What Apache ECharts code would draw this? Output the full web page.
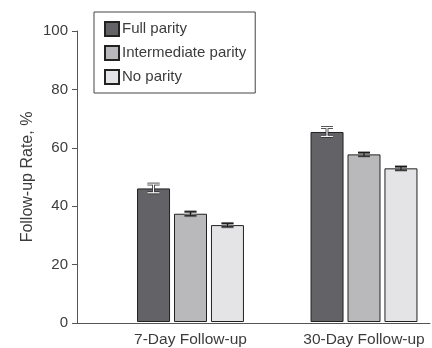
<!DOCTYPE html>
<html><head><meta charset="utf-8">
<script src="https://cdn.jsdelivr.net/npm/echarts@6/dist/echarts.min.js"></script>
<style>html,body{margin:0;padding:0;background:#fff}#c{width:432px;height:348px}</style>
</head><body><div id="c"></div>
<script>
var categories = ['7-Day Follow-up', '30-Day Follow-up'];
var seriesNames = ['Full parity', 'Intermediate parity', 'No parity'];
var fullParity = [45.9, 65.3];
var intermediateParity = [37.2, 57.6];
var noParity = [33.3, 52.8];
var fullErr = [1.5, 1.5];
var intermediateErr = [0.7, 0.6];
var noErr = [0.6, 0.6];
var yTicks = [0, 20, 40, 60, 80, 100];

var colors = ['#636367', '#b9b9bb', '#e4e4e6'];
var values = [fullParity, intermediateParity, noParity];
var errs = [fullErr, intermediateErr, noErr];
var offsets = [-37, 0, 37];
var font = 'Liberation Sans, Arial, sans-serif';
var txt = '#3c3c3c';

var errData = [];
for (var s = 0; s < 3; s++) for (var i = 0; i < categories.length; i++) errData.push([i, values[s][i], errs[s][i], s]);

var chart = echarts.init(document.getElementById('c'));
var series = [];
for (var s = 0; s < 3; s++) {
  series.push({
    name: seriesNames[s], type: 'bar', xAxisIndex: 1, yAxisIndex: 1,
    data: values[s], barWidth: 33, barGap: '12%',
    itemStyle: { color: colors[s], borderColor: '#222', borderWidth: 1 },
    emphasis: { disabled: true }, animation: false
  });
}
series.push({
  type: 'custom', xAxisIndex: 1, yAxisIndex: 1, data: errData, z: 5, animation: false, clip: false,
  renderItem: function (params, api) {
    var c = api.value(0), v = api.value(1), e = api.value(2), s = api.value(3);
    var top = api.coord([c, v + e]), bot = api.coord([c, v - e]);
    var x = top[0] + offsets[s];
    var hw = 6;
    var inner = s === 0 ? '#ffffff' : '#1a1a1a';
    var outer = s === 0 ? '#2a2a2a' : '#8a8a8a';
    var lines = function (w, col) {
      return [
        { type: 'line', shape: { x1: x, y1: top[1], x2: x, y2: bot[1] }, style: { stroke: col, lineWidth: w } },
        { type: 'line', shape: { x1: x - hw, y1: top[1], x2: x + hw, y2: top[1] }, style: { stroke: col, lineWidth: w } },
        { type: 'line', shape: { x1: x - hw, y1: bot[1], x2: x + hw, y2: bot[1] }, style: { stroke: col, lineWidth: w } }
      ];
    };
    return { type: 'group', children: lines(2.8, outer).concat(lines(1.2, inner)) };
  }
});

chart.setOption({
  animation: false,
  textStyle: { fontFamily: font },
  legend: {
    data: seriesNames, orient: 'vertical', left: 94, top: 12,
    padding: [9, 9, 8, 10], itemGap: 8, itemWidth: 14, itemHeight: 14,
    borderColor: '#444', borderWidth: 1, icon: 'rect',
    textStyle: { fontSize: 15, color: txt, fontFamily: font, padding: [0, 0, 0, -2] },
    selectedMode: false
  },
  grid: [
    { left: 77, right: 2, top: 31, bottom: 25 },
    { left: 190.5, right: 68, top: 31, bottom: 25 }
  ],
  xAxis: [
    { type: 'value', gridIndex: 0, min: 0, max: 1, axisLine: { show: true, onZero: false, lineStyle: { color: '#555', width: 1 } },
      axisTick: { show: false }, axisLabel: { show: false }, splitLine: { show: false } },
    { type: 'category', gridIndex: 1, data: categories, boundaryGap: false, axisLine: { show: false }, axisTick: { show: false },
      axisLabel: { fontSize: 15.5, color: txt, margin: 10, fontFamily: font } }
  ],
  yAxis: [
    { type: 'value', gridIndex: 0, min: 0, max: 100, interval: 20,
      name: 'Follow-up Rate, %', nameLocation: 'middle', nameGap: 41, nameMoveOverlap: false,
      nameTextStyle: { fontSize: 16, color: txt, fontFamily: font },
      axisLine: { show: true, lineStyle: { color: '#555', width: 1 } },
      axisTick: { show: true, length: 5, lineStyle: { color: '#555' } },
      axisLabel: { fontSize: 15, color: txt, margin: 9, fontFamily: font },
      splitLine: { show: false } },
    { type: 'value', gridIndex: 1, min: 0, max: 100, interval: 20, show: false }
  ],
  series: series
});
</script></body></html>
